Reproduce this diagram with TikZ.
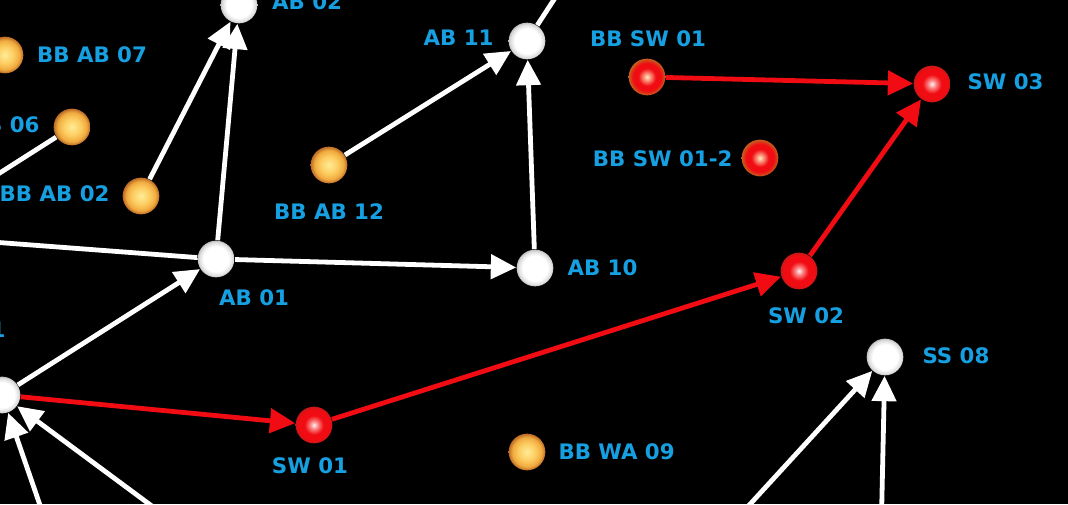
\documentclass[tikz,border=0pt]{standalone}
\usepackage{fontspec}
\setmainfont{DejaVu Sans}[BoldFont={DejaVu Sans Bold}]
\usetikzlibrary{arrows.meta,positioning}
\tikzset{every picture/.style={line width=0.75pt}}

\definecolor{tagblue}{RGB}{22,160,226}
\definecolor{swred}{RGB}{240,12,18}
\definecolor{swedge}{RGB}{200,24,24}
\definecolor{bbcore}{RGB}{255,236,190}
\definecolor{bbedge}{RGB}{196,96,30}
\definecolor{orcore}{RGB}{255,236,150}
\definecolor{ormid}{RGB}{252,204,96}
\definecolor{ormid2}{RGB}{240,170,62}
\definecolor{oredge}{RGB}{186,106,38}
\definecolor{pinkcore}{RGB}{255,240,240}
\definecolor{pinkmid}{RGB}{250,120,120}
\definecolor{ballgray}{RGB}{220,220,220}
\definecolor{ballgray2}{RGB}{190,190,190}

\pgfdeclareradialshading{whiteball}{\pgfpoint{0bp}{0bp}}{color(0bp)=(white); color(17bp)=(white); color(23bp)=(ballgray); color(25bp)=(ballgray2); color(50bp)=(ballgray2)}
\pgfdeclareradialshading{redball}{\pgfpoint{0bp}{0bp}}{color(0bp)=(pinkcore); color(6bp)=(pinkmid); color(13bp)=(swred); color(21bp)=(swred); color(25bp)=(swedge); color(50bp)=(swedge)}
\pgfdeclareradialshading{bbredball}{\pgfpoint{0bp}{0bp}}{color(0bp)=(bbcore); color(12bp)=(swred); color(19bp)=(swred); color(25bp)=(bbedge); color(50bp)=(bbedge)}
\pgfdeclareradialshading{orangeball}{\pgfpoint{0bp}{0bp}}{color(0bp)=(orcore); color(12bp)=(ormid); color(20bp)=(ormid2); color(25bp)=(oredge); color(50bp)=(oredge)}

\begin{document}
\begin{tikzpicture}[
    x=0.75pt,y=-0.75pt,
    link/.style={-{Triangle[length=19pt,width=18pt]},line width=3.6pt,white},
    plainlink/.style={line width=3.6pt,white},
    redlink/.style={-{Triangle[length=19pt,width=18pt]},line width=3.6pt,swred},
    ball/.style={circle,minimum size=27.5pt,inner sep=0pt},
    whitenode/.style={ball,shading=whiteball},
    rednode/.style={ball,shading=redball},
    bbrednode/.style={ball,shading=bbredball},
    orangenode/.style={ball,shading=orangeball},
    tag/.style={text=tagblue,inner sep=0pt,font=\bfseries\fontsize{16}{18}\selectfont}
]
    % Background
    \fill[black] (0,0) rectangle (1068,504);
    \useasboundingbox (0,0) rectangle (1068,504);

    % Stations
    \node[whitenode] (ab02) at (239,5) {};
    \node[tag] (ab02t) at (307,2) {AB 02};
    \node[orangenode] (bbab07) at (5,55) {};
    \node[tag] (bbab07t) at (92,55) {BB AB 07};
    \node[orangenode] (bbab06) at (72,127) {};
    \node[tag,anchor=east] (bbab06t) at (40,125) {BB AB 06};
    \node[orangenode] (bbab02) at (141,196) {};
    \node[tag,anchor=east] (bbab02t) at (110,194) {BB AB 02};
    \node[whitenode] (ab01) at (216,259) {};
    \node[tag] (ab01t) at (254,298) {AB 01};
    \node[whitenode] (ab11) at (527,41) {};
    \node[tag,anchor=east] (ab11t) at (494,38) {AB 11};
    \node[orangenode] (bbab12) at (329,165) {};
    \node[tag] (bbab12t) at (329,212) {BB AB 12};
    \node[whitenode] (ab10) at (535,268) {};
    \node[tag,anchor=west] (ab10t) at (567,268) {AB 10};
    \node[whitenode] (ss01) at (2,395) {};
    \node[tag,anchor=east] (ss01t) at (6,330) {SS 01};
    \node[whitenode] (ss08) at (885,357) {};
    \node[tag,anchor=west] (ss08t) at (922,356) {SS 08};
    \node[orangenode] (bbwa09) at (527,452) {};
    \node[tag,anchor=west] (bbwa09t) at (558,452) {BB WA 09};

    % Switches
    \node[rednode] (sw01) at (314,425) {};
    \node[tag] (sw01t) at (310,466) {SW 01};
    \node[rednode] (sw02) at (799,271) {};
    \node[tag] (sw02t) at (806,316) {SW 02};
    \node[rednode] (sw03) at (932,84) {};
    \node[tag,anchor=west] (sw03t) at (967,82) {SW 03};
    \node[bbrednode] (bbsw01) at (647,77) {};
    \node[tag] (bbsw01t) at (648,39) {BB SW 01};
    \node[bbrednode] (bbsw012) at (760,158) {};
    \node[tag,anchor=east] (bbsw012t) at (733,159) {BB SW 01-2};

    % Ends outside the frame
    \coordinate (outa) at (570,-25);
    \coordinate (outb) at (-60,211);
    \coordinate (outc) at (-100,235);
    \coordinate (outd) at (52,540);
    \coordinate (oute) at (195,538);
    \coordinate (outf) at (720,537);
    \coordinate (outg) at (881,540);

    % White links
    \draw[link] (bbab02) -- (ab02);
    \draw[link] (ab01) -- (ab02);
    \draw[link] (bbab12) -- (ab11);
    \draw[link] (ab10) -- (ab11);
    \draw[link] (ab01) -- (ab10);
    \draw[link] (ss01) -- (ab01);
    \draw[link] (outd) -- (ss01);
    \draw[link] (oute) -- (ss01);
    \draw[link] (outf) -- (ss08);
    \draw[link] (outg) -- (ss08);
    \draw[plainlink] (ab11) -- (outa);
    \draw[plainlink] (bbab06) -- (outb);
    \draw[plainlink] (ab01) -- (outc);

    % Red links
    \draw[redlink] (ss01) -- (sw01);
    \draw[redlink] (sw01) -- (sw02);
    \draw[redlink] (sw02) -- (sw03);
    \draw[redlink] (bbsw01) -- (sw03);
\end{tikzpicture}
\end{document}
